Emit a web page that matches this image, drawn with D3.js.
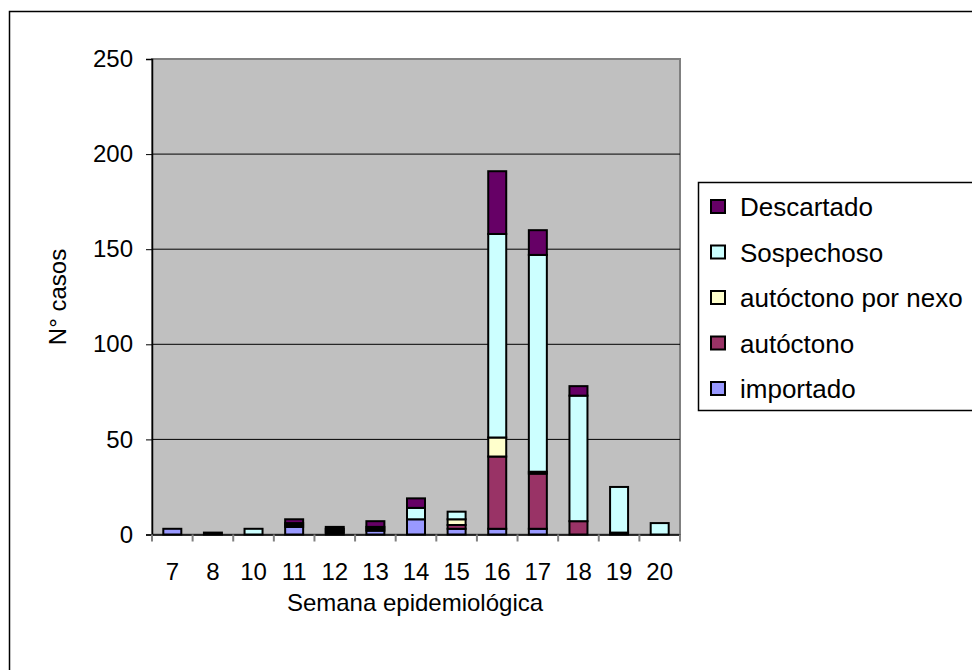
<!DOCTYPE html>
<html lang="es">
<head>
  <meta charset="UTF-8" />
  <title>casos por semana</title>
  <script src="https://d3js.org/d3.v7.min.js"></script>
  <style>
    body { margin: 0; background: #fff; }
    text { font-family: "Liberation Sans", Arial, sans-serif; fill: #000; }
  </style>
</head>
<body>
<script>

const WIDTH = 972;
const HEIGHT = 670;

// data
const semanas = ["7", "8", "10", "11", "12", "13", "14", "15", "16", "17", "18", "19", "20"];
const importado    = [3, 0, 0, 4, 1, 2, 8, 3, 3, 3, 0, 0, 0];
const autoctono    = [0, 1, 0, 1, 1, 1, 0, 2, 38, 29, 7, 1, 0];
const autoctonoNexo = [0, 0, 0, 0, 1, 0, 0, 3, 10, 1, 0, 0, 0];
const sospechoso   = [0, 0, 3, 1, 0, 1, 6, 4, 107, 114, 66, 24, 6];
const descartado   = [0, 0, 0, 2, 1, 3, 5, 0, 33, 13, 5, 0, 0];
const yTicks = [0, 50, 100, 150, 200, 250];

const series = [
  {key: "importado", label: "importado", values: importado, color: "#9999FF"},
  {key: "autoctono", label: "autóctono", values: autoctono, color: "#993366"},
  {key: "nexo", label: "autóctono por nexo", values: autoctonoNexo, color: "#FFFFCC"},
  {key: "sospechoso", label: "Sospechoso", values: sospechoso, color: "#CCFFFF"},
  {key: "descartado", label: "Descartado", values: descartado, color: "#660066"}
];

const table = semanas.map((s, i) => {
  const row = {semana: s};
  series.forEach(se => row[se.key] = se.values[i]);
  return row;
});

const svg = d3.select("body").append("svg")
    .attr("width", WIDTH)
    .attr("height", HEIGHT);

// outer frame
svg.append("rect")
    .attr("x", 9.5).attr("y", 11.5)
    .attr("width", WIDTH).attr("height", HEIGHT)
    .attr("fill", "#fff")
    .attr("stroke", "#000")
    .attr("stroke-width", 1.5);

const plot = {left: 152, right: 680, top: 59, bottom: 534.5};

const x = d3.scaleBand()
    .domain(semanas)
    .range([plot.left, plot.right]);

const y = d3.scaleLinear()
    .domain([0, 250])
    .range([plot.bottom, plot.top]);

// plot background
svg.append("rect")
    .attr("x", plot.left).attr("y", plot.top)
    .attr("width", plot.right - plot.left)
    .attr("height", plot.bottom - plot.top)
    .attr("fill", "#C0C0C0")
    .attr("stroke", "#808080")
    .attr("stroke-width", 2);

// grid
svg.append("g")
    .selectAll("line")
    .data(yTicks.filter(d => d > 0 && d < 250))
    .join("line")
        .attr("x1", plot.left).attr("x2", plot.right)
        .attr("y1", d => y(d)).attr("y2", d => y(d))
        .attr("stroke", "#000")
        .attr("stroke-width", 1);

// bars
const stack = d3.stack().keys(series.map(s => s.key));
const layers = stack(table);

svg.append("g")
    .selectAll("g")
    .data(layers)
    .join("g")
        .attr("fill", (d, i) => series[i].color)
    .selectAll("rect")
    .data(d => d.filter(p => p[1] > p[0]))
    .join("rect")
        .attr("x", d => x(d.data.semana) + x.bandwidth() / 2 - 9)
        .attr("width", 18)
        .attr("y", d => y(d[1]))
        .attr("height", d => y(d[0]) - y(d[1]))
        .attr("stroke", "#000")
        .attr("stroke-width", 2);

// y axis
svg.append("g")
    .attr("transform", `translate(${plot.left},0)`)
    .call(d3.axisLeft(y).tickValues(yTicks).tickSize(6).tickPadding(13))
    .call(g => g.select(".domain").attr("stroke", "#000").attr("stroke-width", 1.5))
    .call(g => g.selectAll(".tick line").attr("stroke", "#000"))
    .call(g => g.selectAll(".tick text")
        .style("font-size", "24px")
        .attr("fill", "#000"));

// x axis
const xAxis = svg.append("g")
    .attr("transform", `translate(0,${plot.bottom})`)
    .call(d3.axisBottom(x).tickSize(0).tickPadding(28))
    .call(g => g.select(".domain").attr("stroke", "#000").attr("stroke-width", 1.5))
    .call(g => g.selectAll(".tick text")
        .style("font-size", "24px")
        .attr("fill", "#000"));

// x ticks between categories
xAxis.append("g")
    .selectAll("line")
    .data(d3.range(semanas.length + 1))
    .join("line")
        .attr("x1", i => plot.left + i * x.step())
        .attr("x2", i => plot.left + i * x.step())
        .attr("y1", 0).attr("y2", 7)
        .attr("stroke", "#808080")
        .attr("stroke-width", 2);

// axis titles
svg.append("text")
    .attr("x", (plot.left + plot.right) / 2 - 1)
    .attr("y", 611)
    .attr("text-anchor", "middle")
    .style("font-size", "24px")
    .text("Semana epidemiológica");

svg.append("text")
    .attr("transform", "translate(66,297) rotate(-90)")
    .attr("text-anchor", "middle")
    .style("font-size", "24px")
    .text("N° casos");

// legend
const legend = svg.append("g");
legend.append("rect")
    .attr("x", 698.5).attr("y", 182.5)
    .attr("width", 300).attr("height", 228)
    .attr("fill", "#fff")
    .attr("stroke", "#000")
    .attr("stroke-width", 1.5);

const items = legend.selectAll("g.item")
    .data(series.slice().reverse())
    .join("g")
        .attr("class", "item")
        .attr("transform", (d, i) => `translate(711,${207 + i * 45.5})`);

items.append("rect")
    .attr("x", 0).attr("y", -7)
    .attr("width", 14).attr("height", 13)
    .attr("fill", d => d.color)
    .attr("stroke", "#000")
    .attr("stroke-width", 2);

items.append("text")
    .attr("x", 29)
    .attr("y", 0)
    .attr("dy", "0.36em")
    .style("font-size", "26px")
    .text(d => d.label);

</script>
</body>
</html>
